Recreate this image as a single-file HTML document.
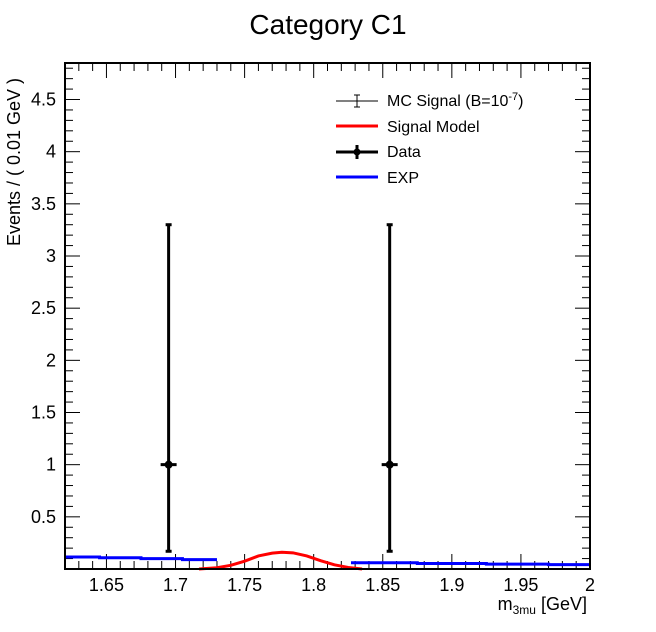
<!DOCTYPE html>
<html><head><meta charset="utf-8"><style>
body{margin:0;background:#fff;}
svg{display:block;font-family:"Liberation Sans",sans-serif;}
</style></head><body>
<svg id="c" width="656" height="632" viewBox="0 0 656 632">
<text x="328" y="34" font-size="28" text-anchor="middle">Category C1</text>
<g id="axes"></g>
<g id="marks"></g>
<rect x="65" y="63" width="525" height="506" fill="none" stroke="#000" stroke-width="2"/>
<text x="587" y="610" font-size="18" text-anchor="end">m<tspan font-size="12" dy="4">3mu</tspan><tspan dy="-4"> [GeV]</tspan></text>
<text transform="translate(20,162) rotate(-90)" font-size="18" text-anchor="middle">Events / ( 0.01 GeV )</text>
<g font-size="16">
 <g>
  <line x1="336" y1="101" x2="378" y2="101" stroke="#000" stroke-width="1"/>
  <line x1="357" y1="95" x2="357" y2="107" stroke="#000" stroke-width="1"/>
  <line x1="354" y1="95" x2="360" y2="95" stroke="#000"/><line x1="354" y1="107" x2="360" y2="107" stroke="#000"/>
  <text x="387" y="106">MC Signal (B=10<tspan font-size="11" dy="-6">-7</tspan><tspan dy="6">)</tspan></text>
 </g>
 <g>
  <line x1="336" y1="126" x2="378" y2="126" stroke="#f00" stroke-width="3"/>
  <text x="387" y="132">Signal Model</text>
 </g>
 <g>
  <line x1="336" y1="152" x2="378" y2="152" stroke="#000" stroke-width="3"/>
  <line x1="357" y1="145" x2="357" y2="159" stroke="#000" stroke-width="3"/>
  <circle cx="357" cy="152" r="3.5"/>
  <text x="387" y="157">Data</text>
 </g>
 <g>
  <line x1="336" y1="177" x2="378" y2="177" stroke="#00f" stroke-width="3"/>
  <text x="387" y="183">EXP</text>
 </g>
</g>
</svg>
<script>
const xTicks=[1.65,1.7,1.75,1.8,1.85,1.9,1.95,2];
const xTickLabels=["1.65","1.7","1.75","1.8","1.85","1.9","1.95","2"];
const yTicks=[0.5,1,1.5,2,2.5,3,3.5,4,4.5];
const yTickLabels=["0.5","1","1.5","2","2.5","3","3.5","4","4.5"];
const dataX=[1.695,1.855];
const dataY=[1,1];
const dataLo=[0.17,0.17];
const dataHi=[3.3,3.3];
const expLeftX=[1.62,1.645,1.645,1.675,1.675,1.705,1.705,1.73];
const expLeftY=[0.115,0.115,0.108,0.108,0.100,0.100,0.090,0.090];
const expRightX=[1.827,1.875,1.875,1.925,1.925,1.97,1.97,2.0];
const expRightY=[0.060,0.060,0.053,0.053,0.047,0.047,0.042,0.042];
const sigX=[1.717,1.73,1.74,1.75,1.76,1.77,1.777,1.785,1.795,1.805,1.815,1.825,1.835];
const sigY=[0.0,0.012,0.035,0.075,0.125,0.152,0.16,0.155,0.125,0.08,0.04,0.015,0.0];
const X0=65,X1=590,Y0=569,Y1=63,xmin=1.62,xmax=2.0,ymin=0,ymax=4.85;
const sx=v=>X0+(v-xmin)/(xmax-xmin)*(X1-X0);
const sy=v=>Y0-(v-ymin)/(ymax-ymin)*(Y0-Y1);
const NS="http://www.w3.org/2000/svg";
const axes=document.getElementById('axes'),marks=document.getElementById('marks');
function mk(t,a,p){const e=document.createElementNS(NS,t);for(const k in a)e.setAttribute(k,a[k]);p.appendChild(e);return e;}
for(let v=1.62;v<=2.0001;v+=0.01){const x=sx(v);const major=Math.abs(Math.round(v*20)-v*20)<1e-6;const L=major?15:8;
 const t=mk('line',{x1:x,x2:x,y1:Y0,y2:Y0-L,stroke:'#000','stroke-width':1},axes);
 
 
 const t2=mk('line',{x1:x,x2:x,y1:Y1,y2:Y1+L,stroke:'#000','stroke-width':1},axes);
 
 }
xTicks.forEach((v,i)=>{const t=mk('text',{x:sx(v),y:591,'font-size':18,'text-anchor':'middle'},axes);t.textContent=xTickLabels[i];
 
 });
for(let v=0.1;v<=4.85;v+=0.1){const y=sy(v);const major=Math.abs(Math.round(v*2)-v*2)<1e-6;const L=major?15:8;
 const t=mk('line',{x1:X0,x2:X0+L,y1:y,y2:y,stroke:'#000','stroke-width':1},axes);
 
 
 const t2=mk('line',{x1:X1,x2:X1-L,y1:y,y2:y,stroke:'#000','stroke-width':1},axes);
 
 }
yTicks.forEach((v,i)=>{const t=mk('text',{x:56,y:sy(v)+6,'font-size':18,'text-anchor':'end'},axes);t.textContent=yTickLabels[i];
 
 });
function poly(xs,ys,col,name){const p=mk('polyline',{points:xs.map((x,i)=>sx(x)+','+sy(ys[i])).join(' '),fill:'none',stroke:col,'stroke-width':3},marks);
 
 }
poly(expLeftX,expLeftY,'#00f','exp-curve-left');
poly(expRightX,expRightY,'#00f','exp-curve-right');
poly(sigX,sigY,'#f00','signal-model-curve');
dataX.forEach((v,i)=>{const g=mk('g',{},marks);
 
 
 const x=sx(v);
 mk('line',{x1:x,x2:x,y1:sy(dataLo[i]),y2:sy(dataHi[i]),stroke:'#000','stroke-width':3},g);
 mk('line',{x1:x-3,x2:x+3,y1:sy(dataLo[i]),y2:sy(dataLo[i]),stroke:'#000','stroke-width':3},g);
 mk('line',{x1:x-3,x2:x+3,y1:sy(dataHi[i]),y2:sy(dataHi[i]),stroke:'#000','stroke-width':3},g);
 mk('line',{x1:x-8,x2:x+8,y1:sy(dataY[i]),y2:sy(dataY[i]),stroke:'#000','stroke-width':3},g);
 mk('circle',{cx:x,cy:sy(dataY[i]),r:4},g);});
</script>
</body></html>
